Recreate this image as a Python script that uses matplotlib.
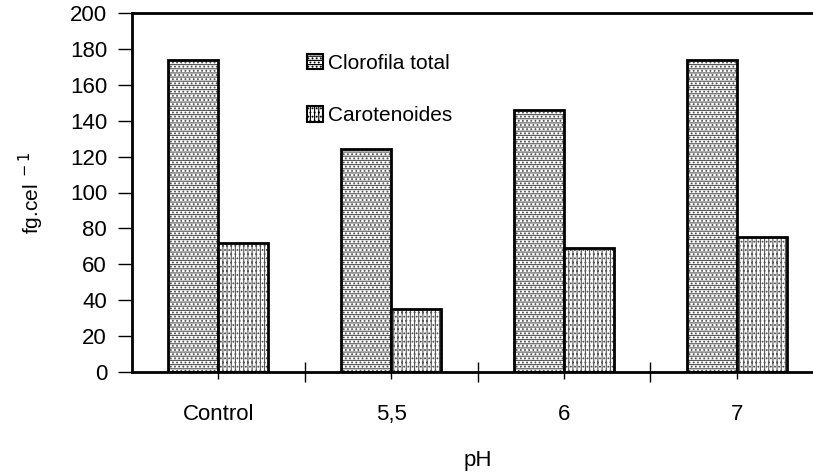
import numpy as np
import matplotlib
matplotlib.use("Agg")
import matplotlib.pyplot as plt
from matplotlib.patches import Patch

plt.rcParams["font.family"] = ["Liberation Sans", "DejaVu Sans"]
plt.rcParams["hatch.linewidth"] = 0.8

# ── Données ────────────────────────────────────────────────────────────────
categories = ["Control", "5,5", "6", "7"]
clorofila = [174, 124, 146, 174]
carotenoides = [72, 35, 69, 75]
series_names = ["Clorofila total", "Carotenoides"]
yticks = [0, 20, 40, 60, 80, 100, 120, 140, 160, 180, 200]

fig = plt.figure(figsize=(8.13, 4.75), dpi=100)
# l'axe déborde à droite de la figure (comme l'original)
ax = fig.add_axes([132 / 813, 1 - 372 / 475, 691 / 813, 359 / 475])

x = np.arange(len(categories)) + 0.5
w = 0.29
hatches = ["----....", "||||...."]
for vals, off, h in [(clorofila, -w / 2, hatches[0]), (carotenoides, w / 2, hatches[1])]:
    # motif gris, puis contour noir par-dessus
    ax.bar(x + off, vals, w, color="white", edgecolor="#555555", hatch=h, linewidth=0)
    ax.bar(x + off, vals, w, fill=False, edgecolor="black", linewidth=2)

ax.set_xlim(0, 4)
ax.set_ylim(0, 200)
ax.set_yticks(yticks)
ax.set_xticks([1, 2, 3])
ax.set_xticklabels([])
ax.set_xticks(x, minor=True)
ax.set_xticklabels(categories, minor=True, fontsize=16)
ax.tick_params(axis="x", which="minor", direction="out", length=5, width=1, pad=18)
ax.tick_params(axis="x", which="major", direction="inout", length=15, width=1)
ax.tick_params(axis="y", direction="out", length=10, width=1, labelsize=16, pad=8)

for s in ["left", "bottom", "top"]:
    ax.spines[s].set_linewidth(2)
ax.spines["right"].set_visible(False)

ax.set_ylabel("fg.cel$^{\\ -1}$", fontsize=15, labelpad=17)
ax.set_xlabel("pH", fontsize=16, labelpad=18)

handles = [Patch(facecolor="white", edgecolor="black", hatch=h, linewidth=1.5) for h in hatches]
leg = ax.legend(handles, series_names, loc="upper left", bbox_to_anchor=(0.226, 0.938),
                frameon=False, fontsize=15, handlelength=0.75, handleheight=0.75,
                handletextpad=0.25, labelspacing=1.6)

fig.savefig("out.png", dpi=100)
